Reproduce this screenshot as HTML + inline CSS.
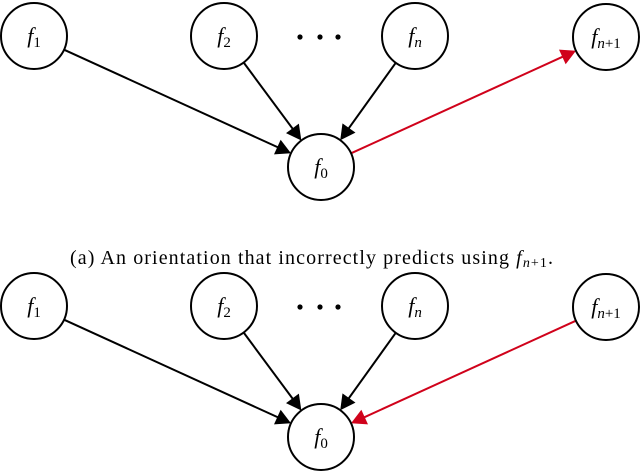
<!DOCTYPE html>
<html><head><meta charset="utf-8"><style>
html,body{margin:0;padding:0;background:#fff;width:640px;height:475px;overflow:hidden}
svg{display:block}
text{font-family:"Liberation Serif",serif}
</style></head><body>
<svg id="s" width="640" height="475" viewBox="0 0 640 475" xmlns="http://www.w3.org/2000/svg">
<text x="70" y="264" font-size="20" textLength="483" lengthAdjust="spacing">(a) An orientation that incorrectly predicts using <tspan font-style="italic">f</tspan><tspan font-size="14" dy="3"><tspan font-style="italic">n</tspan>+1</tspan><tspan dy="-3">.</tspan></text>
</svg>
<script>
var s=document.getElementById('s'),NS='http://www.w3.org/2000/svg';
function el(t,a){var e=document.createElementNS(NS,t);for(var k in a)e.setAttribute(k,a[k]);s.appendChild(e);return e;}
var R=33;
function label(x,y,sub){var t=el('text',{x:x,y:y+7,'font-size':22,'text-anchor':'middle'});
 t.innerHTML='<tspan font-style="italic">f</tspan><tspan font-size="15" dy="4">'+sub+'</tspan>';}
function node(x,y,sub){el('circle',{cx:x,cy:y,r:R,fill:'#fff',stroke:'#000','stroke-width':2});label(x,y,sub);}
function arrow(a,b,col){var dx=b[0]-a[0],dy=b[1]-a[1],L=Math.hypot(dx,dy),ux=dx/L,uy=dy/L;
 var sx=a[0]+ux*R,sy=a[1]+uy*R,ex=b[0]-ux*R,ey=b[1]-uy*R,hl=15,hw=8;
 var bx=ex-ux*hl,by=ey-uy*hl;
 el('line',{x1:sx,y1:sy,x2:bx+ux*2,y2:by+uy*2,stroke:col,'stroke-width':2});
 el('polygon',{points:ex+','+ey+' '+(bx-uy*hw)+','+(by+ux*hw)+' '+(bx+uy*hw)+','+(by-ux*hw),fill:col});}
function graph(o,flip){
 var f1=[34,36+o],f2=[224,36+o],fn=[415,36+o],fp=[606,37+o],f0=[321,167+o];
 arrow(f1,f0,'#000');arrow(f2,f0,'#000');arrow(fn,f0,'#000');
 if(flip)arrow(fp,f0,'#d0021b');else arrow(f0,fp,'#d0021b');
 node(f1[0],f1[1],'1');node(f2[0],f2[1],'2');node(fn[0],fn[1],'<tspan font-style="italic">n</tspan>');
 node(fp[0],fp[1],'<tspan font-style="italic">n</tspan>+1');node(f0[0],f0[1],'0');
 [300,320,338].forEach(function(x){el('circle',{cx:x,cy:37+o,r:2.6,fill:'#000'});});
}
graph(0,false);graph(270,true);
</script>
</body></html>
